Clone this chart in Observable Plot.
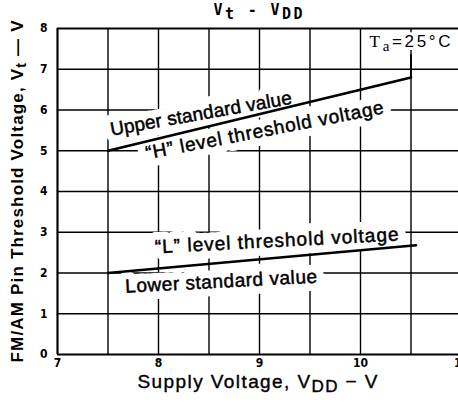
<!DOCTYPE html>
<html><head><meta charset="utf-8">
<script src="https://cdn.jsdelivr.net/npm/d3@7"></script>
<script src="https://cdn.jsdelivr.net/npm/@observablehq/plot@0.6"></script>
<style>html,body{margin:0;padding:0;background:#fff;}</style>
</head><body><div id="chart"></div>
<script>
// ---- data ----
const xTicks = [7, 8, 9, 10, 11];
const xGridValues = [7.5, 8, 8.5, 9, 9.5, 10, 10.5, 11];
const yTicks = [0, 1, 2, 3, 4, 5, 6, 7, 8];
const yGridValues = [1, 2, 3, 4, 5, 6, 7];
const upperVdd = [7.5, 10.5];
const upperVt = [5.0, 6.8];
const lowerVdd = [7.5, 10.55];
const lowerVt = [2.0, 2.68];
const leaderVdd = [10.5, 10.5];
const leaderVt = [6.8, 7.35];
const annotationText = ["Upper standard value", "\u201cH\u201d level threshold voltage", "\u201cL\u201d level threshold voltage", "Lower standard value"];
const annotationVdd = [8.42, 9.05, 9.17, 8.62];
const annotationVt = [5.91, 5.50, 2.79, 1.79];
const titleText = "Vt - VDD";
const xTitle = "Supply Voltage, VDD \u2212 V";
const yTitle = "FM/AM Pin Threshold Voltage, Vt \u2014 V";
const conditionText = "Ta=25\u00b0C";
const conditionVdd = [10.09];
const conditionVt = [7.69];

// ---- styling (not data) ----
const annotationAngle = [-10, -11, -3, -3];
const annotationLength = [184, 242, 244, 192];

const ann = annotationText.map((t, i) => ({t, x: annotationVdd[i], y: annotationVt[i], a: annotationAngle[i], i}));
const upper = upperVdd.map((x, i) => ({x, y: upperVt[i]}));
const lower = lowerVdd.map((x, i) => ({x, y: lowerVt[i]}));
const leader = leaderVdd.map((x, i) => ({x, y: leaderVt[i]}));
const cond = [{t: conditionText, x: conditionVdd[0], y: conditionVt[0]}];

const sans = "Liberation Sans, Arial, Helvetica, sans-serif";
const tickFont = "DejaVu Sans Condensed, Liberation Sans Narrow, Liberation Sans, sans-serif";
const haloOpts = {fill: "#fff", stroke: "#fff", strokeWidth: 16, strokeLinejoin: "round"};

const chart = Plot.plot({
  width: 458,
  height: 402,
  marginLeft: 57,
  marginRight: -3,
  marginTop: 28,
  marginBottom: 48,
  style: {background: "#fff", color: "#000"},
  x: {domain: [7, 11]},
  y: {domain: [0, 8]},
  marks: [
    Plot.ruleX(xGridValues, {stroke: "#000", strokeWidth: 1.4}),
    Plot.ruleY(yGridValues, {stroke: "#000", strokeWidth: 1.4}),
    // white halo layer (breaks the grid around the labels, as in the drawing)
    Plot.text(ann, {x: "x", y: "y", text: "t", rotate: "a", fontSize: 19, fontFamily: sans, ...haloOpts}),
    Plot.text(cond, {x: "x", y: "y", text: "t", textAnchor: "start", fontSize: 17, fontFamily: sans, ...haloOpts, strokeWidth: 6}),
    // labels
    Plot.text(ann, {x: "x", y: "y", text: "t", rotate: "a", fontSize: 19, fontFamily: sans, fill: "#000", stroke: "#000", strokeWidth: 0.5}),
    Plot.text(cond, {x: "x", y: "y", text: "t", textAnchor: "start", fontSize: 17, fontFamily: sans, fill: "#000"}),
    Plot.line(upper, {x: "x", y: "y", stroke: "#000", strokeWidth: 2.6}),
    Plot.line(lower, {x: "x", y: "y", stroke: "#000", strokeWidth: 2.6}),
    Plot.line(leader, {x: "x", y: "y", stroke: "#000", strokeWidth: 1.8}),
    Plot.ruleY([0, 8], {stroke: "#000", strokeWidth: 2.2}),
    Plot.ruleX([7], {stroke: "#000", strokeWidth: 2.2}),
    Plot.axisX(xTicks, {tickSize: 0, tickPadding: 4, fontSize: 12, fontWeight: "bold", fontFamily: tickFont, label: null}),
    Plot.axisY(yTicks, {tickSize: 0, tickPadding: 10, fontSize: 12, fontWeight: "bold", fontFamily: tickFont, label: null}),
    Plot.text([titleText], {frameAnchor: "top", lineAnchor: "middle", textAnchor: "middle", dx: -1.5, dy: -18.5, fontSize: 15, fontWeight: "bold", fontFamily: "DejaVu Sans Mono, Liberation Mono, monospace"}),
    Plot.text([xTitle], {frameAnchor: "bottom", lineAnchor: "middle", textAnchor: "middle", dx: -2, dy: 27, fontSize: 19, fontFamily: sans, fill: "#000", stroke: "#000", strokeWidth: 0.4}),
    Plot.text([yTitle], {frameAnchor: "left", lineAnchor: "middle", textAnchor: "middle", dx: -40, rotate: -90, fontSize: 17, fontWeight: "bold", fontFamily: sans})
  ]
});
document.getElementById("chart").appendChild(chart);

// rich text (subscripts) and measured lengths
function rich(el, parts, shift, len) {
  const t = d3.select(el);
  t.text(null);
  let cur = 0;
  for (const p of parts) {
    const s = t.append("tspan").text(p.t);
    const target = p.sub ? shift : 0;
    if (target !== cur) { s.attr("dy", target - cur); cur = target; }
    if (p.size) s.attr("font-size", p.size);
    if (p.family) s.attr("font-family", p.family);
  }
  if (len) t.attr("textLength", len).attr("lengthAdjust", "spacing");
}
const serif = "Liberation Serif, Times New Roman, serif";
d3.select(chart).selectAll("text").each(function() {
  const c = this.textContent;
  if (c === titleText) rich(this, [{t: "V"}, {t: "t", sub: true}, {t: " - V"}, {t: "DD", sub: true}], 4, 89);
  else if (c === xTitle) rich(this, [{t: "Supply Voltage, V"}, {t: "DD", sub: true, size: 17}, {t: " \u2212 V"}], 4, 240);
  else if (c === yTitle) rich(this, [{t: "FM/AM Pin Threshold Voltage, V"}, {t: "t", sub: true, size: 14}, {t: " \u2014 V"}], 3, 342);
  else if (c === conditionText) rich(this, [{t: "T", family: serif}, {t: "a", sub: true, family: serif, size: 15}, {t: "=25\u00b0C"}], 4, 81);
  else {
    const k = annotationText.indexOf(c);
    if (k >= 0) d3.select(this).attr("textLength", annotationLength[k]).attr("lengthAdjust", "spacing");
  }
});
</script>
</body></html>
